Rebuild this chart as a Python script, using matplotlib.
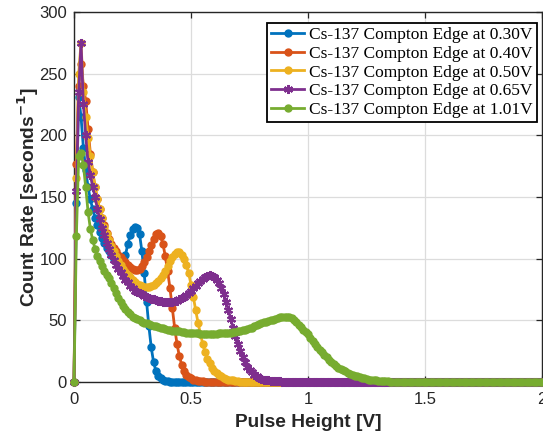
import numpy as np
import matplotlib
matplotlib.use("Agg")
import matplotlib.pyplot as plt

# sampled every 0.01 V starting at 0 V; after the last value the curve sits at 0 up to 2 V
STEP = 0.01
X_END = 2.0

edges = ["0.30", "0.40", "0.50", "0.65", "1.01"]

counts_030 = [0, 145, 231, 215, 190, 172, 158, 148, 140, 133,
              127, 122, 117, 113, 109, 106, 103, 100, 98, 97,
              96, 97, 103, 112, 119, 124, 126, 125, 120, 106,
              88, 65, 45, 28, 16, 9, 5, 3, 1.5, 0.8, 0.4]

counts_040 = [0, 177, 240, 258, 240, 228, 205, 185, 170, 158,
              148, 140, 133, 127, 121, 116, 112, 109, 106, 103,
              101, 99, 97, 95, 93, 92, 91, 91, 92, 94,
              97, 101, 106, 111, 116, 120, 121, 118, 112, 102,
              90, 76, 60, 44, 31, 21, 14, 9, 6, 4,
              3, 2, 1.5, 1, 0.7, 0.5]

counts_050 = [0, 165, 250, 275, 235, 215, 198, 183, 170, 158,
              148, 140, 133, 126, 120, 115, 110, 106, 102, 98,
              95, 92, 89, 87, 85, 83, 81, 79.5, 78.5, 77.5,
              77, 77, 77, 77.5, 78.5, 80, 82, 84, 87, 90,
              94, 98, 101, 103.5, 105, 105, 103, 100, 95, 88,
              79, 69, 58, 48, 39, 31, 24, 19, 15, 11.5,
              9, 7, 5.5, 4.5, 3.5, 2.7, 2, 1.6, 1.2, 1, 0.8]

counts_065 = [0, 155, 235, 275, 225, 200, 178, 168, 158, 150,
              140, 132, 125, 119, 113, 108, 103, 99, 95, 92,
              89, 86, 83, 81, 78, 76, 74, 73, 72, 71,
              70, 69, 68, 67.5, 67, 66.5, 66, 65.5, 65, 65,
              65, 65, 65, 65.5, 66, 67, 68, 69, 70.5, 72,
              74, 76, 78, 80, 82, 83.5, 85, 86, 86.5, 86,
              85, 83, 80, 76, 71, 65, 58, 51, 44, 37,
              31, 25, 20, 16, 12.5, 10, 8, 6, 4.5, 3.5,
              2.5, 2, 1.5, 1.2, 1, 0.8, 0.6, 0.5, 0.4, 0.3, 0.2]

counts_101 = [0, 118, 183, 186, 176, 158, 138, 124, 115, 108,
              102, 98, 94, 90, 87, 84, 80, 76, 72, 68,
              65, 62, 59, 57, 55, 53, 52, 51, 50, 49,
              48, 47.5, 47, 46, 45.5, 45, 44.5, 44, 43.5, 43,
              42.5, 42, 41.5, 41.5, 41, 41, 40.5, 40.5, 40, 40,
              40, 39.5, 39.5, 39.5, 39, 39, 39, 39, 39, 39,
              39, 39, 39.5, 39.5, 39.5, 40, 40, 40, 40.5, 40.5,
              41, 41.5, 42, 42.5, 43, 43.5, 44, 45, 46, 47,
              48, 48.5, 49, 49.5, 50, 50.5, 51, 52, 52.5, 53,
              53, 53, 52.5, 52, 50.5, 48.5, 46.5, 44.5, 42.5, 40.5,
              38.5, 36, 33.5, 31, 28.5, 26, 24, 22, 20, 18,
              16, 14.5, 13, 11.5, 10.5, 9.5, 8.5, 7.5, 6.5, 6,
              5, 4.5, 4, 3.5, 3, 2.5, 2, 1.8, 1.5, 1.2,
              1, 0.8, 0.6, 0.5, 0.4, 0.3]

series = [counts_030, counts_040, counts_050, counts_065, counts_101]
colors = ["#0072BD", "#D95319", "#EDB120", "#7E2F8E", "#77AC30"]
markers = ["o", "o", "o", (6, 2, 0), "o"]

plt.rcParams["font.family"] = ["Liberation Sans", "DejaVu Sans"]

fig = plt.figure(figsize=(5.43, 4.36), dpi=100)
ax = fig.add_axes([0.1363, 0.1239, 0.862, 0.8486])

n_total = int(round(X_END / STEP)) + 1
x_all = np.arange(n_total) * STEP
for vals, col, mk, edge in zip(series, colors, markers, edges):
    y = np.zeros(n_total)
    y[:len(vals)] = vals
    if mk == "o":
        ax.plot(x_all, y, "-", color=col, lw=2.0, marker=mk, ms=5.0,
                mfc=col, mec=col, clip_on=False, zorder=3,
                label=f"Cs-137 Compton Edge at {edge}V")
    else:
        ax.plot(x_all, y, "-", color=col, lw=2.0, marker=mk, ms=6.5,
                mew=1.5, mec=col, clip_on=False, zorder=3,
                label=f"Cs-137 Compton Edge at {edge}V")

ax.set_xlim(0, 2)
ax.set_ylim(0, 300)
ax.set_xticks([0, 0.5, 1, 1.5, 2])
ax.set_xticklabels(["0", "0.5", "1", "1.5", "2"])
ax.set_yticks(np.arange(0, 301, 50))
ax.grid(True, color="#DCDCDC", lw=0.9)
ax.set_axisbelow(True)
ax.tick_params(direction="in", length=4, width=0.9, top=True, right=True,
               labelsize=12, colors="#262626")
ax.tick_params(axis="x", pad=7)
ax.tick_params(axis="y", pad=5)
for s in ax.spines.values():
    s.set_color("#262626")
    s.set_linewidth(1.0)
    s.set_zorder(2.5)

ax.set_xlabel("Pulse Height [V]", fontsize=13.8, fontweight="bold",
              color="#262626", labelpad=5)
ax.set_ylabel("Count Rate [seconds$^{\\mathbf{-1}}$]", fontsize=13.8,
              fontweight="bold", color="#262626", labelpad=-1)

leg = ax.legend(loc="upper right", bbox_to_anchor=(0.997, 0.98),
                prop={"family": ["Liberation Serif"], "size": 12.5},
                frameon=True, fancybox=False, edgecolor="black",
                framealpha=1, borderpad=0.25, labelspacing=0.14,
                handlelength=1.9, handletextpad=0.3, borderaxespad=0.2,
                numpoints=1)
leg.get_frame().set_linewidth(1.3)
leg.set_zorder(5)

fig.savefig("out.png", dpi=100)
